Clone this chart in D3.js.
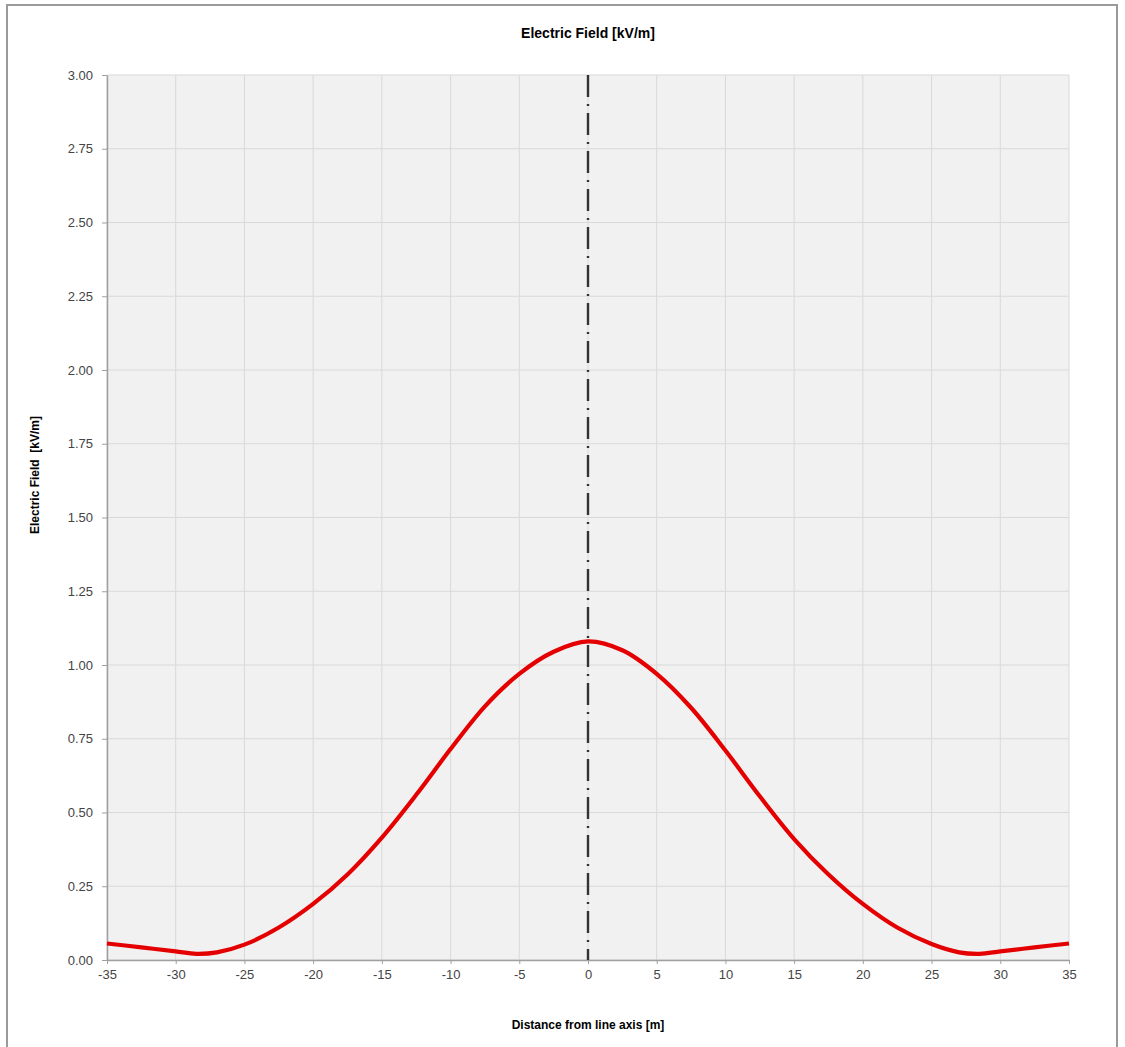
<!DOCTYPE html>
<html lang="en">
<head>
    <meta charset="UTF-8">
    <title>Electric Field</title>
    <style>
        body { margin: 0; background: #fff; }
        svg { display: block; font-family: "Liberation Sans", Arial, sans-serif; }
    </style>
</head>
<body>
    <div id="chart"></div>
    <script src="https://cdn.jsdelivr.net/npm/d3@7"></script>
    <script>
        // distance from line axis [m] and field [kV/m]
        const distances = [-35, -32.5, -30, -28.5, -27, -25, -22.5, -20, -17.5, -15, -12.5, -10, -7.5, -5, -2.5, 0,
                           2.5, 5, 7.5, 10, 12.5, 15, 17.5, 20, 22.5, 25, 27, 28.5, 30, 32.5, 35];
        const fieldValues = [0.056, 0.043, 0.029, 0.021, 0.026, 0.052, 0.11, 0.19, 0.29, 0.415, 0.56, 0.715, 0.86, 0.97, 1.045, 1.08,
                             1.05, 0.97, 0.855, 0.71, 0.555, 0.41, 0.29, 0.19, 0.11, 0.054, 0.026, 0.021, 0.029, 0.043, 0.056];
        const xTicks = d3.range(-35, 36, 5);
        const yTicks = d3.range(0, 3.01, 0.25);

        const width = 1125, height = 1047;
        const margin = {top: 75, right: 56, bottom: 87, left: 107};

        const x = d3.scaleLinear().domain([-35, 35]).range([margin.left, width - margin.right]);
        const y = d3.scaleLinear().domain([0, 3]).range([height - margin.bottom, margin.top]);

        const svg = d3.select("#chart").append("svg")
            .attr("width", width)
            .attr("height", height);

        // outer frame
        svg.append("rect")
            .attr("x", 7).attr("y", 5)
            .attr("width", 1110).attr("height", 1060)
            .attr("fill", "#fff")
            .attr("stroke", "#9a9a9a")
            .attr("stroke-width", 2);

        // plot background
        svg.append("rect")
            .attr("x", x(-35)).attr("y", y(3))
            .attr("width", x(35) - x(-35))
            .attr("height", y(0) - y(3))
            .attr("fill", "#f1f1f1");

        // grid
        svg.append("g")
            .attr("stroke", "#d9d9d9")
            .selectAll("line")
            .data(xTicks)
            .join("line")
            .attr("x1", d => x(d)).attr("x2", d => x(d))
            .attr("y1", y(0)).attr("y2", y(3));

        svg.append("g")
            .attr("stroke", "#d9d9d9")
            .selectAll("line")
            .data(yTicks)
            .join("line")
            .attr("x1", x(-35)).attr("x2", x(35))
            .attr("y1", d => y(d)).attr("y2", d => y(d));

        // axes
        const xAxis = svg.append("g")
            .attr("transform", `translate(0,${y(0)})`)
            .call(d3.axisBottom(x).tickValues(xTicks).tickFormat(d => String(d)).tickSize(4).tickPadding(6).tickSizeOuter(0));

        const yAxis = svg.append("g")
            .attr("transform", `translate(${x(-35)},0)`)
            .call(d3.axisLeft(y).tickValues(yTicks).tickFormat(d3.format(".2f")).tickSize(5).tickPadding(9).tickSizeOuter(0));

        [xAxis, yAxis].forEach(g => {
            g.select(".domain").attr("stroke", "#a0a0a0").attr("stroke-width", 1.5);
            g.selectAll(".tick line").attr("stroke", "#a0a0a0");
            g.selectAll(".tick text").attr("fill", "#444").attr("font-size", 13)
                .attr("font-family", "'Liberation Sans', Arial, sans-serif");
        });

        // line axis marker
        svg.append("line")
            .attr("x1", x(0)).attr("x2", x(0))
            .attr("y1", y(3)).attr("y2", y(0))
            .attr("stroke", "#333")
            .attr("stroke-width", 2.4)
            .attr("stroke-dasharray", "22,7,2,7");

        // field curve
        const line = d3.line()
            .x((d, i) => x(distances[i]))
            .y(d => y(d))
            .curve(d3.curveCatmullRom.alpha(0.5));

        svg.append("path")
            .datum(fieldValues)
            .attr("d", line)
            .attr("fill", "none")
            .attr("stroke", "#e40000")
            .attr("stroke-width", 4.2)
            .attr("stroke-linejoin", "round");

        // titles
        svg.append("text")
            .attr("x", x(0)).attr("y", 38)
            .attr("text-anchor", "middle")
            .attr("font-weight", "bold").attr("font-size", 14)
            .text("Electric Field [kV/m]");

        svg.append("text")
            .attr("x", x(0)).attr("y", 1029)
            .attr("text-anchor", "middle")
            .attr("font-weight", "bold").attr("font-size", 12)
            .text("Distance from line axis [m]");

        svg.append("text")
            .attr("transform", "translate(39,475) rotate(-90)")
            .attr("text-anchor", "middle")
            .attr("font-weight", "bold").attr("font-size", 12)
            .attr("xml:space", "preserve")
            .text("Electric Field  [kV/m]");
    </script>
</body>
</html>
